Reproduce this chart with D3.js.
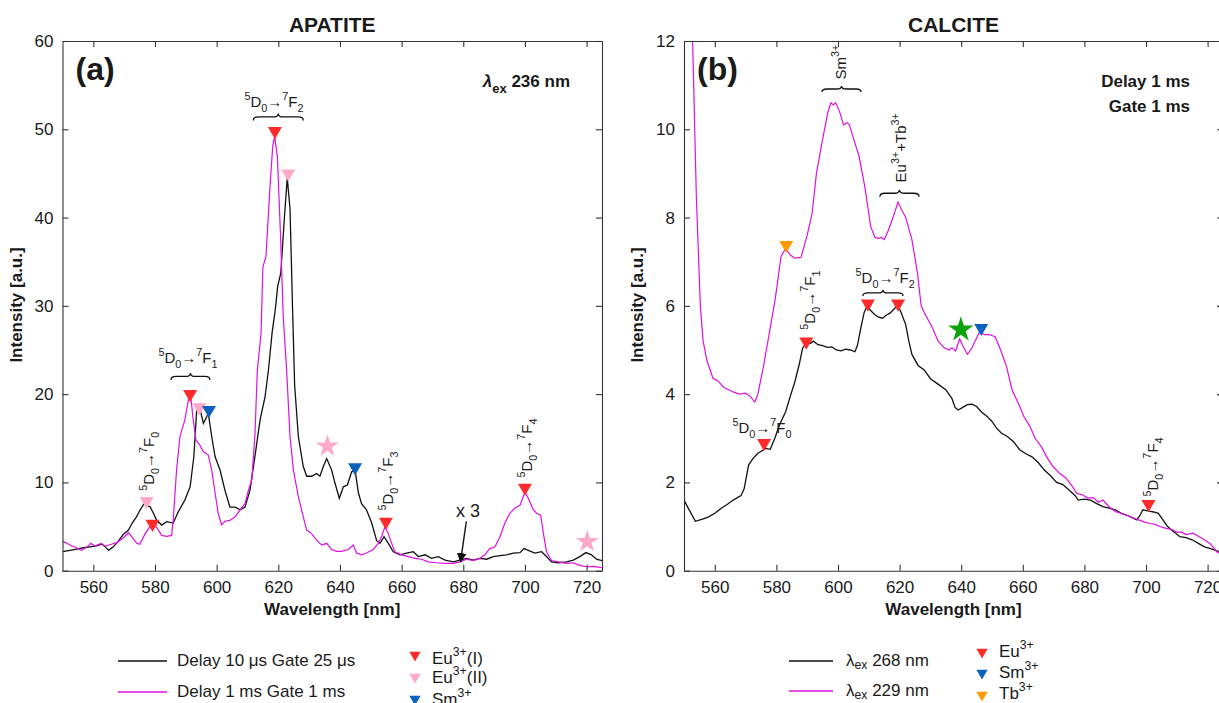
<!DOCTYPE html>
<html>
<head>
<meta charset="utf-8">
<script src="https://cdn.jsdelivr.net/npm/d3@7"></script>
<style>
body { margin: 0; background: #fff; }
text { font-family: "Liberation Sans", Arial, sans-serif; fill: #1a1a1a; }
</style>
</head>
<body>
<svg id="chart" width="1219" height="703"></svg>
<script>
// ---- data ----
// APATITE, Delay 10 us Gate 25 us (black)
var apBlackNm = [550,552.4,554.6,556.8,558.9,561.1,562.7,563.8,564.9,566.5,568.1,569.7,571.4,572.6,574,575.2,576.5,577.5,578.4,579.5,580.5,582.2,583.8,585.9,587.6,589.7,591.4,592.6,593.5,594.4,595.7,597.3,598.4,599.5,601.1,602.7,604.3,606,607.6,609.2,610.8,612.4,614.1,615.7,616.8,618,619,619.8,620.8,622,622.9,623.8,624.6,625.3,626.5,628.1,629.2,630.8,632.4,633.5,634.6,635.7,637.3,638.4,639.8,641.1,642.4,643.8,644.9,646,647,648.6,650.3,651.9,653,654.3,655.7,657.3,659.5,661.6,663.8,665.4,667.6,669.7,671.9,674.1,676.8,678.9,681.1,683.2,685.4,687.6,689.7,691.9,694.1,696.2,698.4,699.7,701.1,703.2,705.4,707,708.6,710.8,713.5,715.7,717.8,719.8,721.6,723.2,725];
var apBlackI  = [2.15,2.3,2.45,2.6,2.7,2.8,3.0,2.75,2.3,2.7,3.35,4.1,4.6,5.4,6.1,6.9,7.6,7.3,7.25,6.5,5.74,5.17,5.55,5.4,6.7,8.0,9.5,12.9,18.0,18.6,16.7,17.8,15.2,12.9,11.4,9.1,7.2,7.2,6.9,7.2,9.1,12.9,17.1,19.7,22.7,27,29.5,32.2,33.7,40.1,44.5,41,30,21,15.2,11.8,10.7,10.7,11.0,10.7,11.8,12.7,11.4,9.9,8.2,9.5,9.7,11.2,11.4,8.8,7.6,6.9,5.4,3.4,3.1,3.85,3.1,2.15,1.8,2.0,2.15,1.6,1.8,1.4,1.6,1.2,1.0,1.2,1.4,1.2,1.4,1.3,1.6,1.7,1.8,2.0,2.05,2.5,2.3,2.0,2.15,1.6,1.0,0.9,1.0,1.2,1.6,2.05,1.8,1.3,1.15];
// APATITE, Delay 1 ms Gate 1 ms (magenta)
var apMagNm = [550,551.4,553,554.6,556.2,558,559.2,560.5,562.5,563.8,565.9,567.8,569.7,571.4,572.4,574.1,575.1,576.8,578.4,580,581.1,582.2,583.8,585.4,585.9,587,588.1,589.7,590.8,591.6,592.4,593.3,594.6,595.7,597.3,598.4,599.5,600.5,601.6,602.7,604.3,606,607.6,609.2,610.3,611.4,612.4,613.2,614.4,615,616,617.3,618.2,618.8,619.7,620.7,621.6,622.7,623.8,624.9,626.5,628.1,629.2,630.8,632.4,634.1,635.7,637.3,638.9,640.5,642.7,644.3,645.4,647,648.6,650.8,652.4,653.5,654.6,655.7,656.8,657.8,660,662.2,664.3,666.5,668.6,671.4,674.1,676.8,678.9,681.1,683.2,685.4,687,688.6,690.3,691.9,693.5,695.1,696.8,698.4,700,701.1,702.7,703.8,705.1,706,707,708.6,710.8,713.5,715.7,717.8,720,722.2,724.9];
var apMagI  = [3.35,3.1,2.8,2.6,2.3,2.7,3.1,2.8,3.1,2.8,3.0,3.2,3.7,4.3,3.9,3.1,3.0,4.2,5.0,5.2,4.6,4.0,3.9,4.0,5.7,11.4,15.2,17.1,19.3,19.7,17.1,14.8,14.2,13.5,13.1,11.4,8.8,6.5,5.2,5.6,5.7,6.1,6.9,7.6,9.1,10.3,15.2,22.7,26.9,34.4,35.6,43.5,48.1,49.2,46.9,38.2,28.8,22.7,15.2,11.4,8.4,6.1,4.6,4.2,3.5,2.9,3.1,2.4,2.2,2.2,2.4,2.9,2.0,1.8,2.0,2.4,3.1,3.85,5.0,4.2,3.1,2.15,1.8,1.6,1.4,1.3,1.0,0.9,0.83,0.83,1.0,1.3,1.15,1.4,1.8,2.5,2.7,3.85,5.4,6.5,7.1,7.4,8.9,8.2,6.9,6.5,6.3,4.2,2.15,1.15,1.0,0.83,0.9,0.6,0.45,0.5,0.35];
// CALCITE, lambda_ex 268 nm (black)
var caBlackNm = [550,551.5,553.7,556,558,560,562,564,566,568.5,569.5,571,572.5,574,576.5,578,579.5,581,583,584.5,586,587.5,588.5,590,591,592,593.5,595,596.5,598,599.5,601,602.5,604,605.5,606.3,607.5,608.5,609.5,610.5,612,613,614.5,615.5,617,618.5,619.5,620.5,622,623,624,626,628,630,632,635,637,638,639,640.5,642,643.5,645,646.5,648.5,650,651.5,653,655,657,659,661,663,665,667,669,671,673,675,677,678,680,682,684,686,688,690,692,694,695,697,698,699,701,702.5,704,705.5,707,709,711,713,715,717,719,721,723,725];
var caBlackI  = [1.6,1.4,1.12,1.17,1.22,1.3,1.41,1.5,1.6,1.7,1.85,2.4,2.55,2.66,2.77,2.75,3.0,3.3,3.6,3.95,4.28,4.7,5.04,5.19,5.15,5.2,5.12,5.1,5.06,5.07,5.0,4.98,5.02,5.0,4.96,5.1,5.53,5.85,6.0,5.9,5.8,5.75,5.72,5.78,5.84,5.95,6.0,5.85,5.57,5.2,4.9,4.65,4.55,4.35,4.25,4.1,3.9,3.7,3.64,3.7,3.76,3.77,3.72,3.6,3.49,3.38,3.23,3.12,3.04,2.92,2.74,2.65,2.58,2.45,2.28,2.15,2.0,1.95,1.83,1.7,1.6,1.62,1.6,1.52,1.45,1.42,1.38,1.3,1.25,1.22,1.15,1.25,1.38,1.35,1.33,1.3,1.15,1.0,0.88,0.77,0.75,0.7,0.62,0.54,0.5,0.45,0.4];
// CALCITE, lambda_ex 229 nm (magenta)
var caMagNm = [550,552,552.8,554,555.3,556.2,557.5,559.4,561,563,566,568,570,571.5,573,574,575.8,577.7,579.6,581.5,583,584.5,586,588,590,591.6,593,594.8,596.7,597.7,598.5,599.2,600.5,601.8,603,603.7,605,606.8,608.7,610.6,612,613.2,614,615,616.3,617.6,619.5,620.5,622,624,625.8,627,628,630.7,632.5,634.5,636,637,638.2,639.5,640.5,642,643.5,645.9,647.5,649,651,652.8,654.7,656.5,658.5,660.3,662.3,664,666,668,669.8,672,674,676.2,677.5,679.3,681,683,684.5,686,688,690,692,694,695.5,697.6,699.5,701.4,703,704.5,706.5,708.5,710,711.5,713,715.3,717,719,721,723,725];
var caMagI  = [15.5,13,12,8.5,6.0,5.2,4.75,4.36,4.3,4.15,4.05,4.0,4.02,3.95,3.82,4.0,4.63,5.38,6.14,7.12,7.3,7.15,7.08,7.1,7.6,8.1,9.0,9.7,10.38,10.6,10.55,10.6,10.4,10.1,10.15,10.1,9.8,9.4,8.7,7.8,7.55,7.53,7.55,7.5,7.7,7.95,8.35,8.2,8.0,7.5,6.74,6.0,5.85,5.5,5.2,5.05,5.0,5.05,4.98,5.25,5.1,4.9,5.05,5.4,5.35,5.35,5.3,5.0,4.63,4.1,3.8,3.5,3.27,3.0,2.81,2.55,2.36,2.2,2.1,1.9,1.75,1.72,1.65,1.65,1.55,1.6,1.45,1.34,1.3,1.25,1.2,1.15,1.1,1.07,1.05,1.0,0.96,0.93,0.87,0.88,0.82,0.85,0.78,0.7,0.6,0.43,0.35];

// peak markers
var apMarkNm   = [577.3, 579.2, 591.4, 594.4, 597.5, 618.9, 623.2, 635.9, 644.9, 654.9, 700.0, 720.2];
var apMarkI    = [7.9, 5.3, 20.0, 18.5, 18.2, 49.8, 45.0, 14.1, 11.7, 5.55, 9.4, 3.3];
var apMarkKind = ["eu2", "eu", "eu", "eu2", "sm", "eu", "eu2", "star2", "sm", "eu", "eu", "star2"];
var caMarkNm   = [576.0, 589.7, 583.2, 609.7, 619.5, 639.9, 646.5, 700.8];
var caMarkI    = [2.89, 5.19, 7.38, 6.05, 6.05, 5.46, 5.5, 1.51];
var caMarkKind = ["eu", "eu", "tb", "eu", "eu", "starG", "sm", "eu"];

var xTicks = [560, 580, 600, 620, 640, 660, 680, 700, 720];
var apYTicks = [0, 10, 20, 30, 40, 50, 60];
var caYTicks = [0, 2, 4, 6, 8, 10, 12];

var markColor = { eu: "#ff2a2a", eu2: "#ffa8c8", sm: "#0a62bd", tb: "#ff9a00", star2: "#ffa8c8", starG: "#0da30d" };
var magenta = "#e10fe1";
var frame = "#333";

var svg = d3.select("#chart");
svg.append("rect").attr("width", 1219).attr("height", 703).attr("fill", "#fff");

function trans(n) {
  return [["5", "sup"], ["D", "n"], ["0", "sub"], ["\u2192", "n"], ["7", "sup"], ["F", "n"], [n, "sub"]];
}

function rich(t, parts, size, subShift) {
  var off = 0;
  var sub = subShift == null ? 0.32 : subShift;
  parts.forEach(function(p) {
    var target = p[1] == "sup" ? -size * 0.45 : p[1] == "sub" ? size * sub : 0;
    t.append("tspan").attr("dy", target - off)
      .attr("font-size", p[1] == "n" ? size : size * 0.72)
      .text(p[0]);
    off = target;
  });
  return t;
}

function brace(g, xa, xb, yTip, h) {
  var xm = (xa + xb) / 2, ym = yTip + h / 2, yb = yTip + h;
  g.append("path")
    .attr("d", "M" + xa + "," + yb + " Q" + xa + "," + ym + " " + (xa + 5) + "," + ym +
      " L" + (xm - 5) + "," + ym + " Q" + xm + "," + ym + " " + xm + "," + yTip +
      " Q" + xm + "," + ym + " " + (xm + 5) + "," + ym +
      " L" + (xb - 5) + "," + ym + " Q" + xb + "," + ym + " " + xb + "," + yb)
    .attr("fill", "none").attr("stroke", "#111").attr("stroke-width", 1.3);
}

function drawPanel(o) {
  var x = d3.scaleLinear().domain([550, 725]).range([o.left, o.right]);
  var y = d3.scaleLinear().domain([0, o.yMax]).range([570.7, 41]);
  var g = svg.append("g");

  g.append("clipPath").attr("id", "clip" + o.id).append("rect")
    .attr("x", o.left).attr("y", 41).attr("width", o.right - o.left).attr("height", 570.7 - 41);

  var line = d3.line().x(function(d) { return x(d[0]); }).y(function(d) { return y(d[1]); });
  var plot = g.append("g").attr("clip-path", "url(#clip" + o.id + ")");
  plot.append("path").datum(d3.zip(o.blackNm, o.blackI)).attr("d", line)
    .attr("fill", "none").attr("stroke", "#111").attr("stroke-width", 1.3);
  plot.append("path").datum(d3.zip(o.magNm, o.magI)).attr("d", line)
    .attr("fill", "none").attr("stroke", magenta).attr("stroke-width", 1.2);

  // axes box with inward ticks
  var axB = g.append("g").attr("transform", "translate(0,570.7)")
    .call(d3.axisBottom(x).tickValues(xTicks).tickSize(-6).tickSizeOuter(0).tickPadding(10));
  var axT = g.append("g").attr("transform", "translate(0,41)")
    .call(d3.axisTop(x).tickValues(xTicks).tickSize(-6).tickSizeOuter(0).tickFormat(""));
  var axL = g.append("g").attr("transform", "translate(" + o.left + ",0)")
    .call(d3.axisLeft(y).tickValues(o.yTicks).tickSize(-6).tickSizeOuter(0).tickPadding(9));
  var axR = g.append("g").attr("transform", "translate(" + o.right + ",0)")
    .call(d3.axisRight(y).tickValues(o.yTicks).tickSize(-6).tickSizeOuter(0).tickFormat(""));
  [axB, axT, axL, axR].forEach(function(a) {
    a.selectAll("path,line").attr("stroke", frame).attr("stroke-width", 1.1);
    a.selectAll("text").attr("font-size", 17).attr("fill", "#222")
      .style("font-family", "'Liberation Sans', Arial, sans-serif");
  });

  // markers
  d3.zip(o.markNm, o.markI, o.markKind).forEach(function(m) {
    var star = m[2].indexOf("star") == 0;
    g.append("path")
      .attr("d", d3.symbol().type(star ? d3.symbolStar : d3.symbolTriangle).size(star ? (m[2] == "starG" ? 200 : 160) : 85)())
      .attr("transform", "translate(" + x(m[0]) + "," + y(m[1]) + ")" + (star ? "" : " rotate(180)"))
      .attr("fill", markColor[m[2]]);
  });

  var cx = (o.left + o.right) / 2;
  g.append("text").attr("x", cx).attr("y", 32).attr("text-anchor", "middle")
    .attr("font-size", 21).attr("font-weight", "bold").text(o.title);
  g.append("text").attr("x", cx).attr("y", 615).attr("text-anchor", "middle")
    .attr("font-size", 17).attr("font-weight", "bold").text("Wavelength [nm]");
  g.append("text").attr("transform", "translate(" + (o.left - 41) + ",305) rotate(-90)")
    .attr("text-anchor", "middle").attr("font-size", 17).attr("font-weight", "bold").text("Intensity [a.u.]");
  g.append("text").attr("x", o.left + 13).attr("y", 80)
    .attr("font-size", 32).attr("font-weight", "bold").text("(" + o.id + ")");

  return { g: g, x: x, y: y };
}

// ---- panel (a) ----
var A = drawPanel({ id: "a", left: 62.5, right: 602, yMax: 60, yTicks: apYTicks, title: "APATITE",
  blackNm: apBlackNm, blackI: apBlackI, magNm: apMagNm, magI: apMagI,
  markNm: apMarkNm, markI: apMarkI, markKind: apMarkKind });

var lam = A.g.append("text").attr("x", 570).attr("y", 87).attr("text-anchor", "end")
  .attr("font-size", 17).attr("font-weight", "bold");
lam.append("tspan").attr("font-style", "italic").text("\u03bb");
lam.append("tspan").attr("font-size", 13).attr("dy", 6).text("ex");
lam.append("tspan").attr("dy", -6).text(" 236 nm");

rich(A.g.append("text").attr("x", A.x(618.6)).attr("y", A.y(52.55)).attr("text-anchor", "middle"), trans("2"), 15);
brace(A.g, A.x(611.9), A.x(628.1), A.y(51.8), 7);
rich(A.g.append("text").attr("x", A.x(590.7)).attr("y", A.y(23.5)).attr("text-anchor", "middle"), trans("1"), 15);
brace(A.g, A.x(585.2), A.x(597.8), A.y(22.4), 7);
rich(A.g.append("text").attr("transform", "translate(" + A.x(579.7) + "," + A.y(12.4) + ") rotate(-90)").attr("text-anchor", "middle"), trans("0"), 15);
rich(A.g.append("text").attr("transform", "translate(" + A.x(657.2) + "," + A.y(10.15) + ") rotate(-90)").attr("text-anchor", "middle"), trans("3"), 15);
rich(A.g.append("text").attr("transform", "translate(" + A.x(702.2) + "," + A.y(13.9) + ") rotate(-90)").attr("text-anchor", "middle"), trans("4"), 15);

A.g.append("text").attr("x", A.x(681.5)).attr("y", A.y(6.1)).attr("text-anchor", "middle")
  .attr("font-size", 18).text("x 3");
svg.append("defs").append("marker").attr("id", "arr").attr("viewBox", "0 0 10 10")
  .attr("refX", 9).attr("refY", 5).attr("markerWidth", 7).attr("markerHeight", 9).attr("orient", "auto")
  .append("path").attr("d", "M0,0 L10,5 L0,10 Z").attr("fill", "#111");
A.g.append("line").attr("x1", A.x(681.0)).attr("y1", A.y(5.6)).attr("x2", A.x(679.1)).attr("y2", A.y(1.0))
  .attr("stroke", "#111").attr("stroke-width", 1.4).attr("marker-end", "url(#arr)");

// ---- panel (b) ----
var B = drawPanel({ id: "b", left: 684, right: 1223, yMax: 12, yTicks: caYTicks, title: "CALCITE",
  blackNm: caBlackNm, blackI: caBlackI, magNm: caMagNm, magI: caMagI,
  markNm: caMarkNm, markI: caMarkI, markKind: caMarkKind });

B.g.append("text").attr("x", 1190).attr("y", 87).attr("text-anchor", "end")
  .attr("font-size", 17).attr("font-weight", "bold").text("Delay 1 ms");
B.g.append("text").attr("x", 1190).attr("y", 112).attr("text-anchor", "end")
  .attr("font-size", 17).attr("font-weight", "bold").text("Gate 1 ms");

rich(B.g.append("text").attr("transform", "translate(" + B.x(602.6) + "," + B.y(11.52) + ") rotate(-90)").attr("text-anchor", "middle"),
  [["Sm", "n"], ["3+", "sup"]], 15);
brace(B.g, B.x(594.8), B.x(607.5), B.y(10.98), 6);
rich(B.g.append("text").attr("transform", "translate(" + B.x(622.1) + "," + B.y(9.58) + ") rotate(-90)").attr("text-anchor", "middle"),
  [["Eu", "n"], ["3+", "sup"], ["+Tb", "n"], ["3+", "sup"]], 15);
brace(B.g, B.x(613.6), B.x(626.3), B.y(8.63), 7);
rich(B.g.append("text").attr("x", B.x(615.3)).attr("y", B.y(6.52)).attr("text-anchor", "middle"), trans("2"), 15);
brace(B.g, B.x(608.1), B.x(621.1), B.y(6.36), 6);
rich(B.g.append("text").attr("transform", "translate(" + B.x(592.5) + "," + B.y(6.13) + ") rotate(-90)").attr("text-anchor", "middle"), trans("1"), 15);
rich(B.g.append("text").attr("x", B.x(575.3)).attr("y", B.y(3.12)).attr("text-anchor", "middle"), trans("0"), 15);
rich(B.g.append("text").attr("transform", "translate(" + B.x(703.9) + "," + B.y(2.35) + ") rotate(-90)").attr("text-anchor", "middle"), trans("4"), 15);

// ---- legends ----
var leg = svg.append("g").attr("font-size", 17);
function legLine(x1, x2, yy, col, tx, parts) {
  leg.append("line").attr("x1", x1).attr("x2", x2).attr("y1", yy).attr("y2", yy)
    .attr("stroke", col).attr("stroke-width", 1.4);
  rich(leg.append("text").attr("x", tx).attr("y", yy + 4.5), parts, 17, 0.22);
}
function legMark(xx, yy, kind, tx, ty, parts) {
  leg.append("path").attr("d", d3.symbol().type(d3.symbolTriangle).size(55)())
    .attr("transform", "translate(" + xx + "," + yy + ") rotate(180)").attr("fill", markColor[kind]);
  rich(leg.append("text").attr("x", tx).attr("y", ty), parts, 17);
}
legLine(118, 167, 661, "#111", 177, [["Delay 10 \u03bcs Gate 25 \u03bcs", "n"]]);
legLine(118, 167, 692, magenta, 177, [["Delay 1 ms Gate 1 ms", "n"]]);
legMark(415, 655, "eu", 432, 664, [["Eu", "n"], ["3+", "sup"], ["(I)", "n"]]);
legMark(415, 677, "eu2", 432, 683, [["Eu", "n"], ["3+", "sup"], ["(II)", "n"]]);
legMark(415, 699, "sm", 432, 705, [["Sm", "n"], ["3+", "sup"]]);

legLine(789, 833, 661, "#111", 846, [["\u03bb", "n"], ["ex", "sub"], [" 268 nm", "n"]]);
legLine(789, 833, 691, magenta, 846, [["\u03bb", "n"], ["ex", "sub"], [" 229 nm", "n"]]);
legMark(982, 652, "eu", 999, 657, [["Eu", "n"], ["3+", "sup"]]);
legMark(982, 673, "sm", 999, 678, [["Sm", "n"], ["3+", "sup"]]);
legMark(982, 695, "tb", 999, 699, [["Tb", "n"], ["3+", "sup"]]);
</script>
</body>
</html>
